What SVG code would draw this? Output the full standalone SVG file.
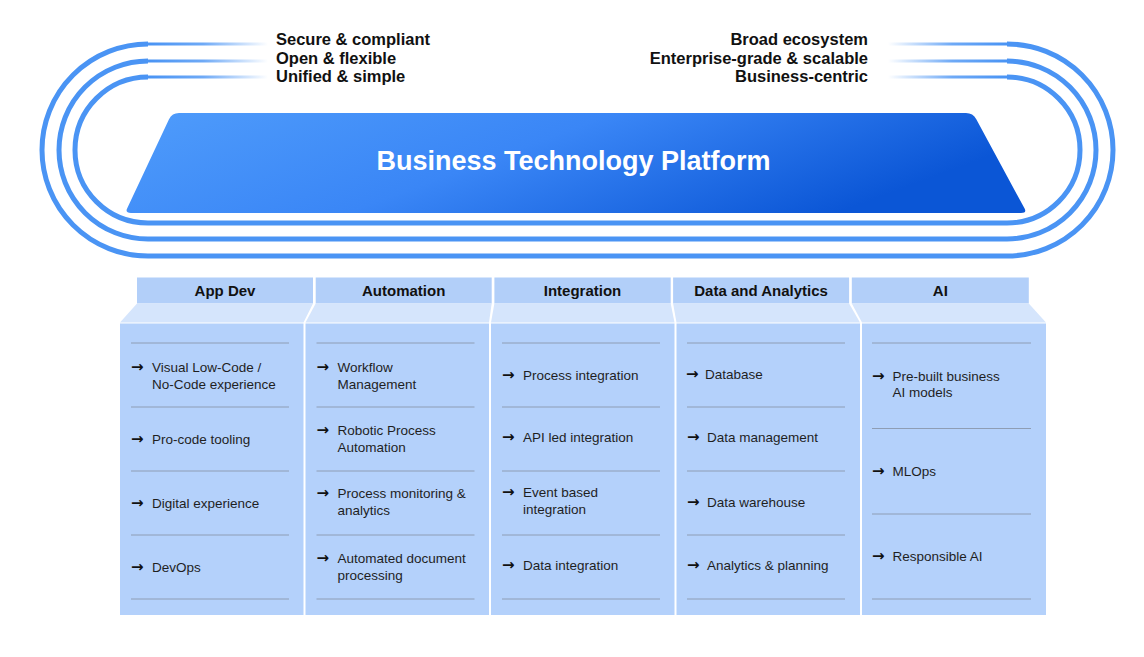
<svg xmlns="http://www.w3.org/2000/svg" width="1144" height="657" viewBox="0 0 1144 657">
<defs>
<linearGradient id="plat" x1="0" y1="0" x2="1" y2="0.3">
<stop offset="0" stop-color="#4f9cfb"/>
<stop offset="0.5" stop-color="#3a86f6"/>
<stop offset="1" stop-color="#0b56d6"/>
</linearGradient>
<linearGradient id="fadeL" gradientUnits="userSpaceOnUse" x1="150" y1="0" x2="268" y2="0">
<stop offset="0" stop-color="#4a94f4" stop-opacity="1"/>
<stop offset="0.45" stop-color="#4a94f4" stop-opacity="0.8"/>
<stop offset="1" stop-color="#4a94f4" stop-opacity="0"/>
</linearGradient>
<linearGradient id="fadeR" gradientUnits="userSpaceOnUse" x1="888" y1="0" x2="1005" y2="0">
<stop offset="0" stop-color="#4a94f4" stop-opacity="0"/>
<stop offset="0.55" stop-color="#4a94f4" stop-opacity="0.8"/>
<stop offset="1" stop-color="#4a94f4" stop-opacity="1"/>
</linearGradient>
</defs>
<style>
.ring{fill:none;stroke:#4a94f4;stroke-width:5}
.topL{fill:none;stroke:url(#fadeL);stroke-width:3}
.topR{fill:none;stroke:url(#fadeR);stroke-width:3}
.attr{font-family:"Liberation Sans",Arial,sans-serif;font-weight:bold;font-size:16.5px;fill:#111}
.title{font-family:"Liberation Sans",Arial,sans-serif;font-weight:bold;font-size:27px;fill:#fff}
.tab{fill:#b2cff9}
.band{fill:#d5e5fc}
.body{fill:#b4d1fb}
.hdr{font-family:"Liberation Sans",Arial,sans-serif;font-weight:bold;font-size:15px;fill:#111;text-anchor:middle}
.sep{stroke:#8e9db4;stroke-width:1}
.item{font-family:"Liberation Sans",Arial,sans-serif;font-size:13.5px;fill:#1f1f1f}
.arr{font-family:"DejaVu Sans",sans-serif;font-weight:bold;font-size:15px;fill:#111}
</style>
<rect width="1144" height="657" fill="#fff"/>

<g id="rings">
<path class="ring" d="M148,44 A106,106 0 0 0 148,256 H1007 A106,106 0 0 0 1007,44"/>
<path class="ring" d="M148,61 A89,89 0 0 0 148,239 H1007 A89,89 0 0 0 1007,61"/>
<path class="ring" d="M148,77 A73,73 0 0 0 148,223 H1007 A73,73 0 0 0 1007,77"/>
<path class="topL" d="M147,44 H268 M147,61 H268 M147,77 H268"/>
<path class="topR" d="M888,44 H1008 M888,61 H1008 M888,77 H1008"/>
</g>

<g id="attributes-left">
<text class="attr" x="276" y="45">Secure &amp; compliant</text>
<text class="attr" x="276" y="63.5">Open &amp; flexible</text>
<text class="attr" x="276" y="82">Unified &amp; simple</text>
</g>
<g id="attributes-right">
<text class="attr" x="868" y="45" text-anchor="end">Broad ecosystem</text>
<text class="attr" x="868" y="63.5" text-anchor="end">Enterprise-grade &amp; scalable</text>
<text class="attr" x="868" y="82" text-anchor="end">Business-centric</text>
</g>

<g id="platform">
<path fill="url(#plat)" d="M179,113 H966 Q973,113 976.3,119.2 L1024.6,208.6 Q1027,213 1021,213 H131 Q125,213 127.1,208.5 L169,119.3 Q172,113 179,113 Z"/>
<text class="title" x="573.5" y="170" text-anchor="middle">Business Technology Platform</text>
</g>

<g id="col-appdev">
<rect class="tab" x="137" y="277.5" width="176" height="26"/>
<polygon class="band" points="137,303.5 313,303.5 303.5,322.5 120,322.5"/>
<rect class="body" x="120" y="323.5" width="183.5" height="291.5"/>
<text class="hdr" x="225" y="296">App Dev</text>
<g class="sep"><line x1="131" y1="343" x2="289" y2="343"/><line x1="131" y1="407" x2="289" y2="407"/><line x1="131" y1="471" x2="289" y2="471"/><line x1="131" y1="535" x2="289" y2="535"/><line x1="131" y1="599" x2="289" y2="599"/></g>
<text class="arr" x="131" y="372">→</text><text class="item" x="152" y="372">Visual Low-Code /</text><text class="item" x="152" y="388.5">No-Code experience</text>
<text class="arr" x="131" y="444">→</text><text class="item" x="152" y="444">Pro-code tooling</text>
<text class="arr" x="131" y="508">→</text><text class="item" x="152" y="508">Digital experience</text>
<text class="arr" x="131" y="572">→</text><text class="item" x="152" y="572">DevOps</text>
</g>

<g id="col-automation">
<rect class="tab" x="315.7" y="277.5" width="176" height="26"/>
<polygon class="band" points="315.7,303.5 491.7,303.5 489,322.5 305.5,322.5"/>
<rect class="body" x="305.5" y="323.5" width="183.5" height="291.5"/>
<text class="hdr" x="403.7" y="296">Automation</text>
<g class="sep"><line x1="316.5" y1="343" x2="474.5" y2="343"/><line x1="316.5" y1="407" x2="474.5" y2="407"/><line x1="316.5" y1="471" x2="474.5" y2="471"/><line x1="316.5" y1="535" x2="474.5" y2="535"/><line x1="316.5" y1="599" x2="474.5" y2="599"/></g>
<text class="arr" x="316.5" y="372">→</text><text class="item" x="337.5" y="372">Workflow</text><text class="item" x="337.5" y="388.5">Management</text>
<text class="arr" x="316.5" y="435">→</text><text class="item" x="337.5" y="435">Robotic Process</text><text class="item" x="337.5" y="451.5">Automation</text>
<text class="arr" x="316.5" y="498">→</text><text class="item" x="337.5" y="498">Process monitoring &amp;</text><text class="item" x="337.5" y="514.5">analytics</text>
<text class="arr" x="316.5" y="563">→</text><text class="item" x="337.5" y="563">Automated document</text><text class="item" x="337.5" y="579.5">processing</text>
</g>

<g id="col-integration">
<rect class="tab" x="494.4" y="277.5" width="176.3" height="26"/>
<polygon class="band" points="494.4,303.5 670.7,303.5 674.5,322.5 491,322.5"/>
<rect class="body" x="491" y="323.5" width="183.5" height="291.5"/>
<text class="hdr" x="582.5" y="296">Integration</text>
<g class="sep"><line x1="502" y1="343" x2="660" y2="343"/><line x1="502" y1="407" x2="660" y2="407"/><line x1="502" y1="471" x2="660" y2="471"/><line x1="502" y1="535" x2="660" y2="535"/><line x1="502" y1="599" x2="660" y2="599"/></g>
<text class="arr" x="502" y="380">→</text><text class="item" x="523" y="380">Process integration</text>
<text class="arr" x="502" y="442">→</text><text class="item" x="523" y="442">API led integration</text>
<text class="arr" x="502" y="497">→</text><text class="item" x="523" y="497">Event based</text><text class="item" x="523" y="513.5">integration</text>
<text class="arr" x="502" y="570">→</text><text class="item" x="523" y="570">Data integration</text>
</g>

<g id="col-data-analytics">
<rect class="tab" x="673.1" y="277.5" width="176" height="26"/>
<polygon class="band" points="673.1,303.5 849.1,303.5 860,322.5 676.5,322.5"/>
<rect class="body" x="676.5" y="323.5" width="183.5" height="291.5"/>
<text class="hdr" x="761.1" y="296">Data and Analytics</text>
<g class="sep"><line x1="687" y1="343" x2="845" y2="343"/><line x1="687" y1="407" x2="845" y2="407"/><line x1="687" y1="471" x2="845" y2="471"/><line x1="687" y1="535" x2="845" y2="535"/><line x1="687" y1="599" x2="845" y2="599"/></g>
<text class="arr" x="686" y="379">→</text><text class="item" x="705" y="379">Database</text>
<text class="arr" x="687" y="442">→</text><text class="item" x="707" y="442">Data management</text>
<text class="arr" x="687" y="507">→</text><text class="item" x="707" y="507">Data warehouse</text>
<text class="arr" x="687" y="570">→</text><text class="item" x="707" y="570">Analytics &amp; planning</text>
</g>

<g id="col-ai">
<rect class="tab" x="851.8" y="277.5" width="177" height="26"/>
<polygon class="band" points="851.8,303.5 1028.8,303.5 1046,322.5 862,322.5"/>
<rect class="body" x="862" y="323.5" width="184" height="291.5"/>
<text class="hdr" x="940.3" y="296">AI</text>
<g class="sep"><line x1="872" y1="343" x2="1031" y2="343"/><line x1="872" y1="428.5" x2="1031" y2="428.5"/><line x1="872" y1="514" x2="1031" y2="514"/><line x1="872" y1="599" x2="1031" y2="599"/></g>
<text class="arr" x="872" y="381">→</text><text class="item" x="892.5" y="381">Pre-built business</text><text class="item" x="892.5" y="397">AI models</text>
<text class="arr" x="872" y="475.5">→</text><text class="item" x="892.5" y="475.5">MLOps</text>
<text class="arr" x="872" y="561">→</text><text class="item" x="892.5" y="561">Responsible AI</text>
</g>
</svg>
